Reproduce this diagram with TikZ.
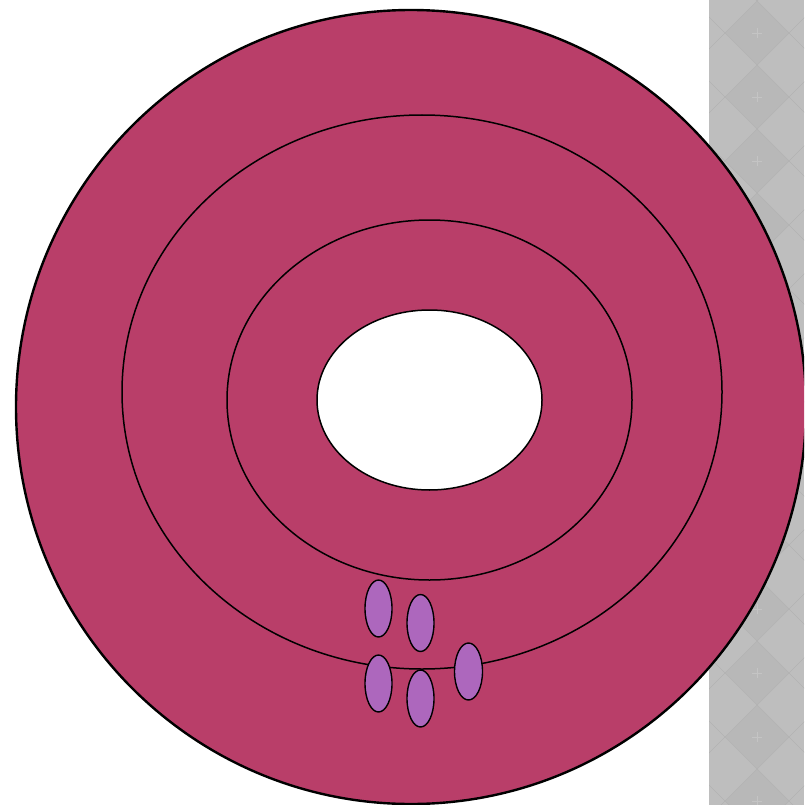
\documentclass[tikz,border=0pt]{standalone}
\usetikzlibrary{shapes.geometric}
\begin{document}
\begin{tikzpicture}[x=1pt,y=-1pt,
  ring/.style={draw=black,line width=1.5pt,fill=ringfill},
  bead/.style={draw=black,line width=1.4pt,fill=beadfill,ellipse,minimum width=27pt,minimum height=57pt,inner sep=0pt}]
\definecolor{ringfill}{HTML}{B93E69}
\definecolor{beadfill}{HTML}{AD67BD}
\definecolor{greylight}{HTML}{BEBEBE}
\definecolor{greydark}{HTML}{B8B8B8}
\definecolor{greyline}{HTML}{B3B3B3}
\definecolor{greyplus}{HTML}{C4C4C4}
\useasboundingbox (0,0) rectangle (804,805);
\clip (0,0) rectangle (804,805);
% grey patterned strip
\fill[greylight] (709,0) rectangle (804,805);
\begin{scope}
\clip (709,0) rectangle (804,805);
\foreach \k in {-1,...,13}{
  \fill[greydark] (757,{1+64*\k}) -- (789,{33+64*\k}) -- (757,{65+64*\k}) -- (725,{33+64*\k}) -- cycle;
  \draw[greyplus,line width=0.6pt] (752,{33+64*\k}) -- (762,{33+64*\k}) (757,{28+64*\k}) -- (757,{38+64*\k});
}
\foreach \k in {-2,...,14}{
  \draw[greyline,line width=0.4pt] (693,{1+64*\k}) -- (821,{129+64*\k});
  \draw[greyline,line width=0.4pt] (821,{1+64*\k}) -- (693,{129+64*\k});
}
\end{scope}
% rings
\draw[ring,line width=2.4pt] (411,407) ellipse [x radius=395, y radius=397];
\draw[ring] (422,392) ellipse [x radius=300, y radius=277];
\draw[ring] (429.5,400) ellipse [x radius=202.5, y radius=180];
\draw[draw=black,line width=1.5pt,fill=white] (429.5,400) ellipse [x radius=112.5, y radius=90];
% beads
\node[bead] (b1) at (378.5,608.5) {};
\node[bead] (b2) at (420.5,623) {};
\node[bead] (b3) at (378.5,683.5) {};
\node[bead] (b4) at (420.5,698.5) {};
\node[bead,minimum width=28pt] (b5) at (468.5,671.5) {};
\end{tikzpicture}
\end{document}
